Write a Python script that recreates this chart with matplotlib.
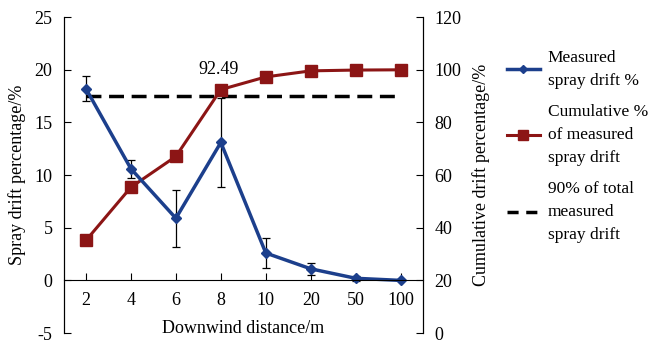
import matplotlib
matplotlib.use("Agg")
import matplotlib.pyplot as plt
from matplotlib.lines import Line2D

plt.rcParams['font.family'] = ['Liberation Serif', 'DejaVu Serif']
plt.rcParams['font.size'] = 13
plt.rcParams['axes.unicode_minus'] = False

# ---------------- Data ----------------
distances = ["2", "4", "6", "8", "10", "20", "50", "100"]
drift = [18.2, 10.6, 5.9, 13.1, 2.6, 1.1, 0.2, 0.0]
drift_err = [1.2, 0.85, 2.7, 4.2, 1.4, 0.6, 0.25, 0.0]
cumulative = [35.2, 55.4, 67.1, 92.49, 97.3, 99.6, 99.9, 100.0]
threshold = 90

blue = "#1c3f8c"
red = "#8c1515"

x = list(range(len(distances)))

fig = plt.figure(figsize=(6.48, 3.43), dpi=100)
ax = fig.add_axes([0.098, 0.029, 0.555, 0.921])
ax2 = ax.twinx()
ax.set_zorder(ax2.get_zorder() + 1)
ax.patch.set_visible(False)

# cumulative + threshold on right axis
ax2.plot(x, cumulative, color=red, lw=2.2, marker="s", ms=8, zorder=3)
ax2.plot([x[0], x[-1]], [threshold, threshold], color="black", lw=2.5,
         dashes=(4.3, 2.2), zorder=2)
ax2.annotate("92.49", (x[3], cumulative[3]), xytext=(-2, 8),
             textcoords="offset points", ha="center", va="bottom", fontsize=13)

# measured drift on left axis
ax.errorbar(x, drift, yerr=drift_err, color=blue, lw=2.5, marker="D", ms=5,
            ecolor="black", elinewidth=0.9, capsize=3, capthick=0.9)

ax.set_xlim(-0.5, 7.5)
ax.set_ylim(-5, 25)
ax.set_yticks(range(-5, 26, 5))
ax2.set_ylim(0, 120)
ax2.set_yticks(range(0, 121, 20))

ax.set_xticks(x)
ax.set_xticklabels(distances)
ax.spines['bottom'].set_position(('data', 0))
ax.spines['top'].set_visible(False)
ax2.spines['top'].set_visible(False)
ax2.spines['bottom'].set_visible(False)
ax.tick_params(axis='both', direction='in', length=5, labelsize=13, pad=8)
ax.tick_params(axis='x', pad=8)
ax2.tick_params(axis='y', direction='in', length=5, labelsize=13, pad=8)

ax.set_xlabel("Downwind distance/m", fontsize=13)
ax.xaxis.set_label_coords(0.5, 0.04)
ax.set_ylabel("Spray drift percentage/%", fontsize=13, labelpad=6)
ax2.set_ylabel("Cumulative drift percentage/%", fontsize=13, labelpad=8)

handles = [
    Line2D([], [], color=blue, lw=2.5, marker="D", ms=4),
    Line2D([], [], color=red, lw=2.2, marker="s", ms=7),
    Line2D([], [], color="black", lw=2.5, dashes=(3.2, 2.2)),
]
labels = ["Measured\nspray drift %",
          "Cumulative %\nof measured\nspray drift",
          "90% of total\nmeasured\nspray drift"]
leg = fig.legend(handles, labels, loc="upper left", bbox_to_anchor=(0.782, 0.855),
                 frameon=False, fontsize=12.5, handlelength=1.9,
                 handletextpad=0.45, labelspacing=0.85,
                 borderaxespad=0, borderpad=0)
for t in leg.get_texts():
    t.set_linespacing(1.6)

fig.savefig("out.png", dpi=100)
